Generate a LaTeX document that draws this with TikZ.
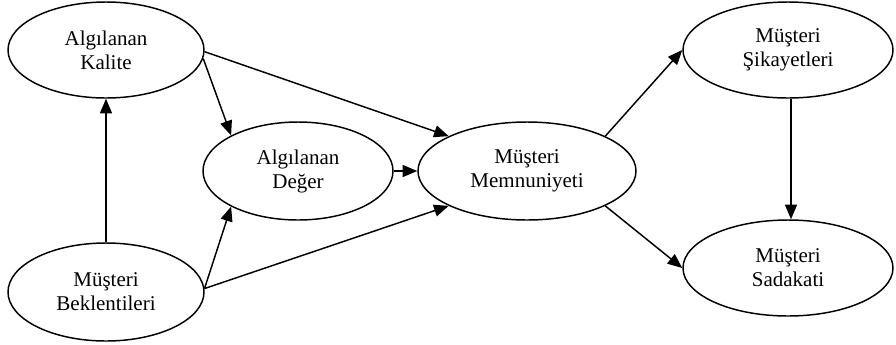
\documentclass[tikz,border=0pt]{standalone}
\usepackage{fontspec}
\setmainfont{Liberation Serif}
\usetikzlibrary{shapes.geometric, arrows.meta}

\begin{document}
\begin{tikzpicture}[x=.75pt, y=-.75pt, line width=1.1pt,
        blob/.style={draw, ellipse, inner sep=0pt, align=center,
            font=\fontsize{15.75}{18}\selectfont},
        arr/.style={-{Triangle[length=11pt, width=9pt]}}]
        \useasboundingbox (0,0) rectangle (896,344);
        \node[blob, minimum width=147pt, minimum height=72pt] (kalite) at (106,50) {Algılanan\\Kalite};
        \node[blob, minimum width=147pt, minimum height=73.5pt] (beklenti) at (106,292) {Müşteri\\Beklentileri};
        \node[blob, minimum width=142.5pt, minimum height=73.5pt] (deger) at (298,171) {Algılanan\\Değer};
        \node[blob, minimum width=163.5pt, minimum height=73.5pt] (memnun) at (527,171) {Müşteri\\Memnuniyeti};
        \node[blob, minimum width=157.5pt, minimum height=72pt] (sikayet) at (788,50) {Müşteri\\Şikayetleri};
        \node[blob, minimum width=157.5pt, minimum height=72pt] (sadakat) at (788,268) {Müşteri\\Sadakati};
        \draw[arr] (beklenti.north) -- (kalite.south);
        \draw[arr] (kalite.-5) -- (deger.152);
        \draw[arr] (kalite.-1) -- (memnun.156);
        \draw[arr] (beklenti.2) -- (deger.208);
        \draw[arr] (beklenti.2) -- (memnun.204);
        \draw[arr] (deger.east) -- (memnun.west);
        \draw[arr] (memnun.24) -- (sikayet.west);
        \draw[arr] (memnun.-24) -- (sadakat.west);
        \draw[arr] ([xshift=2.25pt]sikayet.south) -- ([xshift=2.25pt]sadakat.north);
    \end{tikzpicture}
\end{document}
